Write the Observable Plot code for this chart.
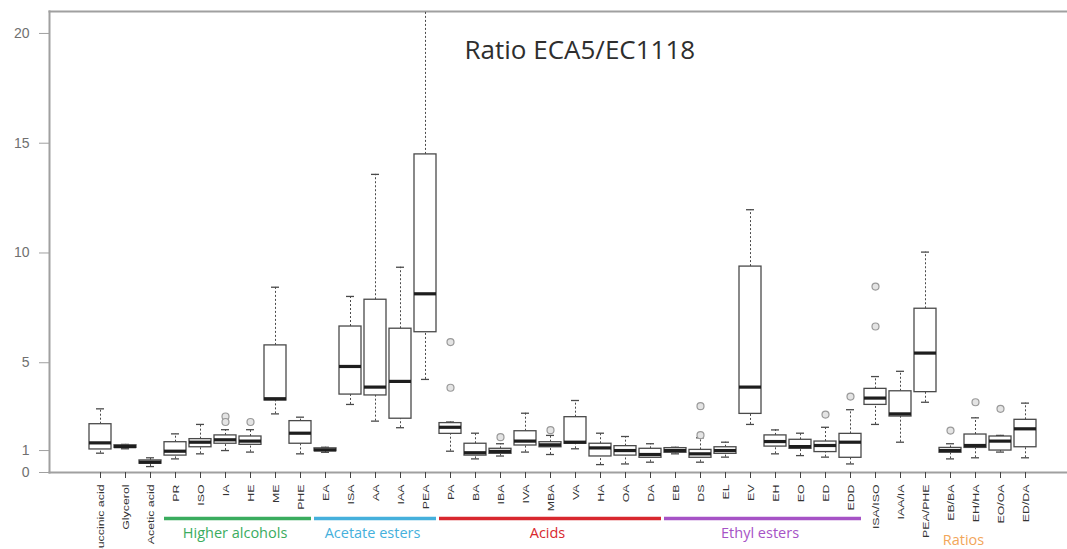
<!DOCTYPE html>
<html>
<head>
<meta charset="utf-8">
<script src="https://cdn.jsdelivr.net/npm/d3@7"></script>
<script src="https://cdn.jsdelivr.net/npm/@observablehq/plot@0.6"></script>
<style>
  html, body { margin: 0; padding: 0; background: #fff; }
  #chart svg { display: block; }
</style>
</head>
<body>
<div id="chart"></div>
<script>
// ---- Data ----
const categories = ["Succinic acid","Glycerol","Acetic acid","PR","ISO","IA","HE","ME","PHE",
  "EA","ISA","AA","IAA","PEA","PA","BA","IBA","IVA","MBA","VA","HA","OA","DA",
  "EB","DS","EL","EV","EH","EO","ED","EDD","ISA/ISO","IAA/IA","PEA/PHE","EB/BA","EH/HA","EO/OA","ED/DA"];

const whiskerLow  = [0.88,1.08,0.27,0.62,0.85,1.00,0.93,2.67,0.85,0.92,3.10,2.34,2.04,4.24,0.97,0.62,0.75,0.93,0.82,1.08,0.36,0.39,0.47,0.85,0.47,0.70,2.19,0.85,0.77,0.70,0.39,2.19,1.38,3.20,0.62,0.67,0.93,0.67];
const quartile1   = [1.05,1.12,0.40,0.77,1.15,1.31,1.26,3.28,1.31,0.97,3.55,3.51,2.45,6.39,1.76,0.77,0.85,1.23,1.15,1.31,0.73,0.77,0.67,0.90,0.67,0.85,2.67,1.18,1.08,0.93,0.67,3.08,2.55,3.66,0.90,1.12,1.00,1.15];
const medians     = [1.35,1.18,0.47,0.97,1.38,1.49,1.43,3.36,1.79,1.03,4.83,3.89,4.15,8.14,2.06,0.90,0.96,1.43,1.26,1.38,1.12,1.00,0.82,1.00,0.85,1.00,3.89,1.41,1.18,1.23,1.38,3.39,2.67,5.44,1.00,1.23,1.43,1.99];
const quartile3   = [2.20,1.24,0.55,1.38,1.52,1.69,1.64,5.79,2.34,1.10,6.65,7.87,6.55,14.49,2.25,1.31,1.08,1.88,1.38,2.52,1.31,1.20,1.08,1.11,1.03,1.15,9.38,1.69,1.49,1.41,1.76,3.81,3.70,7.46,1.12,1.73,1.64,2.40];
const whiskerHigh = [2.90,1.28,0.67,1.76,2.19,1.95,1.95,8.44,2.52,1.15,8.02,13.58,9.35,23.0,2.30,1.79,1.31,2.70,1.69,3.28,1.79,1.64,1.31,1.15,1.58,1.38,11.97,1.94,1.79,2.06,2.86,4.37,4.61,10.04,1.31,2.49,1.69,3.16];

const outlierCategory = ["IA","IA","HE","PA","PA","IBA","MBA","DS","DS","ED","EDD","ISA/ISO","ISA/ISO","EB/BA","EH/HA","EO/OA"];
const outlierValue    = [2.55,2.30,2.30,5.94,3.86,1.61,1.93,3.02,1.70,2.64,3.46,8.47,6.65,1.91,3.20,2.90];

const yTicks = [0, 1, 5, 10, 15, 20];
const titleText = "Ratio ECA5/EC1118";

const groupLabels = ["Higher alcohols","Acetate esters","Acids","Ethyl esters","Ratios"];
const groupFirst  = ["PR","EA","PA","EB","ISA/ISO"];
const groupLast   = ["PHE","PEA","DA","EDD","ED/DA"];
const groupColors = ["#3aac5e","#45b0dc","#d8282e","#a653c6","#f2a65a"];
const groupHasLine = [true, true, true, true, false];

// ---- Build tables ----
const rows = categories.map((c, i) => ({
  cat: c, lo: whiskerLow[i], q1: quartile1[i], med: medians[i], q3: quartile3[i], hi: whiskerHigh[i]
}));
const outliers = outlierCategory.map((c, i) => ({cat: c, v: outlierValue[i]}));

// layout
const W = 1067, H = 549;
const mL = 49, mT = 11, mB = 77, mR = 0;
const xRange = [86.5, 1039.5];
const step = (xRange[1] - xRange[0]) / categories.length;

const groups = groupLabels.map((g, i) => {
  const a = categories.indexOf(groupFirst[i]);
  const b = categories.indexOf(groupLast[i]);
  const mid = (a + b) / 2;
  return {
    label: g, from: groupFirst[i], to: groupLast[i], color: groupColors[i], line: groupHasLine[i],
    midCat: categories[Math.floor(mid)], midDx: (mid - Math.floor(mid)) * step
  };
});

const boxStroke = "#4a4a4a";
const axisGray = "#a0a0a0";

const groupTextMarks = groups.map(g => Plot.text([g], {
  x: "midCat", y: 0, text: "label", fill: "color",
  dx: g.midDx + (g.label === "Ratios" ? 13 : -3),
  dy: g.label === "Ratios" ? 68 : 61,
  fontSize: 14.5, fontFamily: "'Open Sans', sans-serif", lineAnchor: "middle"
}));

const chart = Plot.plot({
  width: W, height: H,
  marginLeft: mL, marginTop: mT, marginBottom: mB, marginRight: mR,
  style: {fontFamily: "'Liberation Sans', Arial, sans-serif", background: "#fff"},
  x: {type: "band", domain: categories, range: xRange, paddingInner: 0.12, paddingOuter: 0.06, align: 0.5},
  y: {domain: [0, 21]},
  marks: [
    // frame lines
    Plot.frame({anchor: "top", stroke: axisGray, strokeWidth: 2}),
    Plot.frame({anchor: "left", stroke: axisGray, strokeWidth: 2}),
    Plot.frame({anchor: "bottom", stroke: axisGray, strokeWidth: 2}),
    // axes
    Plot.axisY({ticks: yTicks, tickSize: 10, tickPadding: 10, fontSize: 14, stroke: axisGray, fill: "#707070", tickFormat: d => String(d)}),
    Plot.axisX({tickRotate: -90, tickSize: 6, tickPadding: 6, fontSize: 9.5, stroke: "#444", fill: "#333", fontFamily: "'Liberation Sans Narrow', 'Liberation Sans', sans-serif"}),
    // whiskers
    Plot.ruleX(rows, {x: "cat", y1: "q3", y2: "hi", stroke: boxStroke, strokeWidth: 1, strokeDasharray: "2,2", clip: true}),
    Plot.ruleX(rows, {x: "cat", y1: "lo", y2: "q1", stroke: boxStroke, strokeWidth: 1, strokeDasharray: "2,2"}),
    Plot.tickY(rows, {x: "cat", y: "hi", stroke: boxStroke, strokeWidth: 1.3, insetLeft: 7, insetRight: 7, clip: true}),
    Plot.tickY(rows, {x: "cat", y: "lo", stroke: boxStroke, strokeWidth: 1.3, insetLeft: 7, insetRight: 7}),
    // boxes
    Plot.barY(rows, {x: "cat", y1: "q1", y2: "q3", fill: "white", stroke: boxStroke, strokeWidth: 1.3}),
    Plot.tickY(rows, {x: "cat", y: "med", stroke: "#1e1e1e", strokeWidth: 3.2}),
    // outliers
    Plot.dot(outliers, {x: "cat", y: "v", r: 3.5, stroke: "#9a9a9a", fill: "#e4e4e4", strokeWidth: 1.2}),
    // title
    Plot.text([titleText], {frameAnchor: "top-left", dx: 464 - mL, dy: 50 - mT, textAnchor: "start", lineAnchor: "middle", fontSize: 26, fill: "#2e2e2e", fontFamily: "'Open Sans', sans-serif"}),
    // group annotations below the axis
    Plot.ruleY(groups.filter(d => d.line), {y: 0, x1: "from", x2: "to", stroke: "color", strokeWidth: 3.5, dy: 46}),
    ...groupTextMarks
  ]
});

// stretch x tick labels along their length like the reference
chart.querySelectorAll('g[aria-label="x-axis tick label"] text').forEach(t => {
  const tr = t.getAttribute("transform") || "";
  t.setAttribute("transform", tr + " scale(1.3,1)");
});

document.getElementById("chart").appendChild(chart);
</script>
</body>
</html>
